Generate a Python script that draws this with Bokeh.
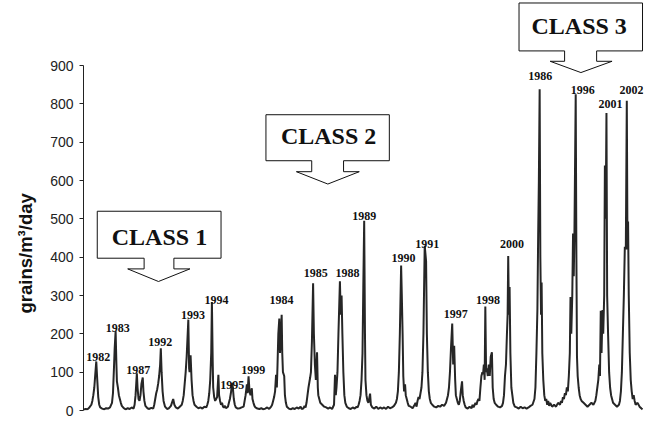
from bokeh.plotting import figure
from bokeh.models import Range1d, FixedTicker, Title
from bokeh.core.properties import value
from bokeh.embed import file_html
from bokeh.resources import INLINE

# ---- data (time index along the unlabelled x axis, grains/m3/day) ----
t = [81, 83, 85, 87, 89, 90, 91, 92, 93, 94, 95, 96, 97, 98, 100, 102, 104,
     106, 108, 110, 111, 112, 112.7, 113.7, 114.5, 115, 116, 117, 118, 119, 120, 122, 124, 126, 128, 130, 132,
     133, 134, 135.3, 136, 137, 138, 139, 140, 141.3, 142, 143, 144, 146, 148, 150, 152,
     153, 154, 155, 156, 157, 158, 159, 159.7, 160.5, 161.5, 162.5, 164, 166, 168, 170, 171, 172.3, 173.5, 175, 177, 179, 181,
     182, 183, 184, 185, 186, 187.7, 188.5, 189, 190, 191, 192, 193, 194, 196, 198, 200, 202, 204, 206, 207,
     208, 209, 210, 211, 211.7, 212.5, 213, 214, 215, 216, 217, 218.3, 219, 220, 221, 222, 223, 224, 225, 226, 228,
     229, 230, 231, 232.3, 233, 234, 235, 236, 238, 240, 242, 244, 245, 246, 247.3, 248, 249, 250, 251, 252.3, 253,
     254, 255, 256, 258, 260, 262, 264, 266, 268, 270, 272,
     273, 274, 275, 276, 277, 277.8, 278.5, 279.3, 280.3, 281, 282, 282.7, 283.3, 284, 285.3, 286, 287, 288, 290,
     292, 294, 296, 298, 300, 302, 303, 305, 306, 307, 308, 309, 310, 311.7, 312.5, 313.5, 314.7, 315.5, 316.5,
     317.5, 318.7, 319.5, 320, 321, 322, 324, 326, 328, 330, 332, 334, 336, 337, 337.8, 338.5, 339.5, 340.5, 342,
     342.8, 343.7, 344.5, 345.5, 346.5, 347.5, 349, 351, 353, 355, 357, 359, 360,
     361, 362, 363, 364, 365, 365.8, 366.7, 367.5, 368, 369, 370, 371, 372.7, 373.5, 375, 377, 379, 381, 383, 385,
     387, 389, 391, 393, 395, 397, 399, 400, 401, 402, 403, 404.3, 405, 405.8, 406.5, 407.3, 408.3, 409, 410, 411,
     412, 414, 416, 418, 419, 420, 421, 422, 423, 424, 425, 426, 427, 428.3, 429.7, 430.5, 431.5, 432.5, 433.5,
     434.5, 436, 438, 440, 442, 444, 446, 448, 450, 451, 452, 453, 454, 455, 456.3, 457.3, 458.3, 459.3, 460, 461,
     462, 463, 464, 465, 466.3, 467, 468, 469, 470, 472, 474, 476, 477, 478, 480, 481, 482, 483, 484, 485, 486,
     487, 487.7, 488.5, 489.3, 490, 490.8, 491.5, 492.5, 493.5, 494.5, 495.5, 496.7, 497.5, 498.5, 499.5, 501,
     503, 505, 507, 508, 509, 510, 511, 512, 512.7, 513.3, 514, 514.7, 515.5, 516.5, 517.5, 518.5, 520, 522, 524,
     526, 528, 530, 532, 534, 536, 538, 540, 541, 542, 543, 543.8, 544.5, 545.3, 546, 546.7, 547.3, 548, 549, 550,
     551, 552, 553, 554, 555, 556, 558, 560, 562, 564, 566, 567, 568, 569, 570, 571, 572, 573, 574, 575, 576,
     576.7, 577.5, 578.5, 579.3, 580, 580.7, 582, 582.7, 583.3, 584, 585, 586, 587, 588, 590, 592, 594, 596, 598,
     600, 602, 603, 604, 605, 606, 606.7, 607.5, 608.3, 609.3, 610, 611, 611.7, 612.5, 613.3, 614, 615, 616, 617,
     618, 619, 620, 622, 624, 626, 627, 628, 629, 630, 631, 632, 633, 634, 634.7, 635.3, 636, 637, 638, 639, 640,
     641, 642, 643, 645, 647, 649, 650]
grains = [2, 4, 3, 8, 15, 25, 40, 60, 95, 128, 80, 35, 15, 8, 5, 3, 6,
          5, 8, 20, 45, 110, 160, 207, 120, 76, 60, 40, 30, 20, 12, 6, 3, 6, 4, 8, 5,
          15, 40, 97, 60, 30, 25, 40, 70, 86, 50, 25, 12, 6, 4, 7, 5,
          15, 30, 45, 55, 70, 90, 120, 162, 100, 50, 25, 10, 4, 6, 12, 20, 30, 15, 8, 5, 10, 15,
          25, 40, 70, 100, 140, 237, 110, 100, 144, 80, 40, 25, 15, 10, 6, 8, 5, 10, 8, 15,
          25, 45, 80, 150, 283, 130, 60, 35, 25, 30, 35, 93, 40, 25, 15, 20, 10, 8, 12, 6, 10,
          20, 30, 45, 72, 60, 30, 15, 8, 5, 6, 8, 10, 25, 40, 68, 45, 89, 50, 40, 58, 30,
          20, 12, 8, 5, 4, 6, 3, 5, 8, 4, 10,
          15, 25, 35, 50, 93, 60, 120, 200, 240, 150, 200, 250, 150, 100, 90, 40, 20, 10, 5,
          3, 6, 4, 8, 5, 10, 4, 6, 12, 8, 20, 40, 60, 86, 100, 180, 332, 200, 120,
          80, 152, 60, 40, 30, 20, 15, 10, 8, 5, 8, 4, 15, 93, 40, 60, 100, 200, 337,
          250, 300, 200, 100, 40, 20, 10, 6, 4, 8, 5, 10, 8,
          15, 25, 40, 80, 150, 322, 495, 200, 80, 40, 25, 20, 44, 15, 8, 5, 10, 4, 8, 5,
          8, 4, 10, 6, 8, 12, 20, 30, 50, 100, 200, 378, 300, 200, 90, 50, 68, 40, 30, 20,
          12, 10, 6, 15, 20, 10, 25, 35, 30, 45, 60, 100, 200, 430, 390, 200, 100, 50, 30,
          20, 15, 10, 8, 12, 10, 15, 12, 20, 30, 40, 60, 100, 160, 227, 120, 169, 80, 40, 30,
          20, 15, 25, 50, 76, 40, 25, 15, 8, 5, 10, 6, 15, 8, 20, 15, 25, 30, 25, 60, 90,
          100, 95, 120, 80, 271, 100, 110, 90, 120, 90, 140, 152, 60, 30, 20, 15,
          10, 8, 12, 20, 40, 90, 120, 200, 250, 403, 250, 322, 150, 60, 40, 20, 10, 8, 5,
          10, 6, 8, 5, 8, 12, 15, 30, 60, 150, 262, 460, 600, 838, 400, 250, 334, 150, 80, 40,
          25, 30, 15, 25, 12, 20, 10, 15, 10, 20, 15, 25, 20, 35, 30, 45, 40, 60, 50, 90, 150,
          296, 200, 300, 462, 350, 462, 825, 400, 140, 90, 60, 40, 30, 25, 20, 15, 10, 15, 20,
          15, 25, 40, 60, 80, 120, 90, 260, 150, 262, 200, 300, 639, 500, 776, 300, 195, 100, 60,
          40, 30, 20, 15, 10, 15, 25, 50, 100, 200, 300, 427, 420, 808, 420, 493, 300, 150, 80, 50, 30,
          40, 25, 15, 20, 10, 5, 3]

y_ticks = [0, 100, 200, 300, 400, 500, 600, 700, 800, 900]

year_labels = ["1982", "1983", "1987", "1992", "1993", "1994", "1995", "1999", "1984", "1985", "1988",
               "1989", "1990", "1991", "1997", "1998", "2000", "1986", "1996", "2001", "2002"]
label_x = [96, 115.8, 136.8, 159, 192.5, 216.3, 232.5, 253.7, 282.5, 317.5, 349.7,
           366.7, 406.7, 430.8, 460, 492.8, 517.2, 545.8, 589.2, 617.5, 638.8]
label_y = [139.5, 215.5, 105.7, 179.3, 249.2, 287.3, 67.7, 105.7, 287.3, 359.3, 360,
           507.1, 398.8, 435.3, 251, 289, 435.3, 872.2, 836.7, 798.7, 836.7]

# callout boxes (class annotations)
callout_text = ["CLASS 1", "CLASS 2", "CLASS 3"]
box_left = [95, 266.7, 524.3]
box_right = [221, 392.3, 650]
box_top = [519.8, 771.6, 1063.1]
box_bottom = [397.3, 651.6, 938.1]
stem_left = [142.7, 313.3, 570.7]
stem_right = [173, 345.7, 603.3]
stem_bottom = [369.4, 623, 911]
head_left = [126, 297.7, 556]
head_right = [189.3, 361.7, 619]
tip_x = [157.3, 329.7, 587.3]
tip_y = [336.5, 590.8, 881.6]
text_x = [158.3, 330.5, 585.5]
text_y = [453.1, 715, 1002.3]

# ---- figure ----
p = figure(width=644, height=419, output_backend="svg", toolbar_location=None,
           x_range=Range1d(81, 651), y_range=Range1d(0, 1069.6),
           x_axis_type=None, min_border_left=73, min_border_right=1,
           min_border_top=0, min_border_bottom=9)
p.outline_line_color = None
p.xgrid.visible = False
p.ygrid.visible = False
p.background_fill_color = "white"
p.border_fill_color = "white"

ax = p.yaxis[0]
ax.ticker = FixedTicker(ticks=y_ticks)
ax.bounds = (0, 900)
ax.axis_line_color = "#222222"
ax.axis_line_width = 1
ax.major_tick_line_color = "#222222"
ax.major_tick_out = 4
ax.major_tick_in = 0
ax.minor_tick_line_color = None
ax.major_label_standoff = 6
ax.major_label_text_font = "Liberation Sans"
ax.major_label_text_font_size = "14px"
ax.major_label_text_color = "#222222"

p.line(t, grains, line_color="#262626", line_width=2)

# callouts
xs, ys = [], []
for i in range(len(callout_text)):
    xs.append([box_left[i], box_right[i], box_right[i], stem_right[i], stem_right[i], head_right[i],
               tip_x[i], head_left[i], stem_left[i], stem_left[i], box_left[i]])
    ys.append([box_top[i], box_top[i], box_bottom[i], box_bottom[i], stem_bottom[i], stem_bottom[i],
               tip_y[i], stem_bottom[i], stem_bottom[i], box_bottom[i], box_bottom[i]])
p.patches(xs, ys, fill_color="white", line_color="#111111", line_width=1)
p.text(x=text_x, y=text_y, text=callout_text, text_font=value("Liberation Serif"),
       text_font_style="bold", text_font_size="24px", text_align="center",
       text_baseline="middle", text_color="#111111")

p.text(x=label_x, y=label_y, text=year_labels, text_font=value("Liberation Serif"),
       text_font_style="bold", text_font_size="12px", text_align="center",
       text_baseline="alphabetic", text_color="#111111")

p.add_layout(Title(text="grains/m³/day", align="left", offset=97, standoff=24,
                   text_font="Liberation Sans", text_font_style="bold",
                   text_font_size="18.5px", text_color="#111111"), "left")

open("out.html", "w").write(file_html(p, INLINE))
